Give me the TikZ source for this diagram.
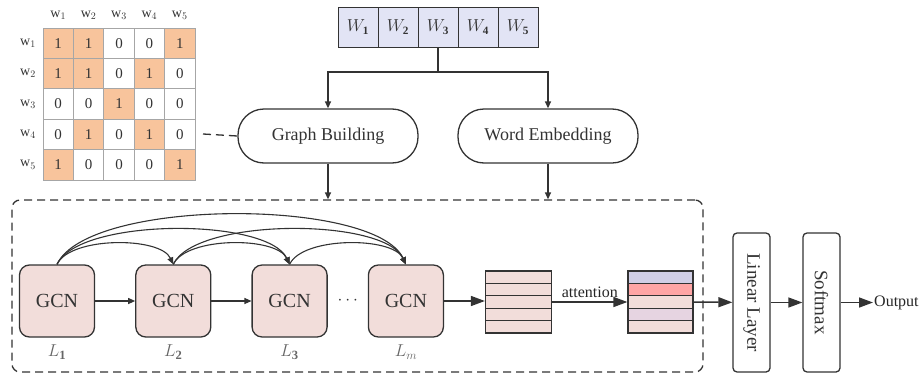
\documentclass[tikz,border=0pt]{standalone}
\usepackage{fontspec}
\setmainfont{Liberation Serif}
\usetikzlibrary{positioning,arrows.meta,calc}

\definecolor{cellorange}{RGB}{248,196,156}
\definecolor{gcnpink}{RGB}{242,221,218}
\definecolor{wordblue}{RGB}{226,228,245}
\definecolor{attlav}{RGB}{209,207,230}
\definecolor{attred}{RGB}{255,165,165}
\definecolor{attmauve}{RGB}{230,212,225}
\definecolor{linegray}{RGB}{51,51,51}

\tikzset{
	bigarr/.style={-{Triangle[width=10pt,length=14pt]}, line width=1.5pt},
	smallarr/.style={-{Triangle[width=6pt,length=7pt]}, line width=1.1pt},
	mcell/.style={draw=black!35, line width=0.8pt, minimum size=30.4pt, inner sep=0pt, font=\fontsize{15}{17}\selectfont},
	cell0/.style={fill=white},
	cell1/.style={fill=cellorange},
	wcell/.style={draw, fill=wordblue, line width=1pt, minimum size=40pt, inner sep=0pt, font=\fontsize{16}{18}\selectfont},
	pill/.style={draw, line width=1.3pt, rounded corners=26pt, minimum width=180pt, minimum height=54pt, font=\fontsize{18}{20}\selectfont},
	gcn/.style={draw, fill=gcnpink, line width=1.3pt, rounded corners=10pt, minimum width=75pt, minimum height=72pt, font=\fontsize{20}{22}\selectfont},
	layerlabel/.style={text=black!60, font=\fontsize{18}{20}\selectfont},
	rowcell/.style={draw, line width=1.2pt, minimum width=66pt, minimum height=12.4pt, inner sep=0pt},
	vbox/.style={draw, line width=1.3pt, rounded corners=4pt, rotate=-90, minimum width=139pt, minimum height=37pt, font=\fontsize{19}{21}\selectfont}
}

\begin{document}
\begin{tikzpicture}[x=1pt, y=-1pt, color=linegray]
	\useasboundingbox (0,0) rectangle (923,375);

	% adjacency matrix
	\foreach \i in {1,...,5} {
		\node[font=\fontsize{14}{16}\selectfont] (colhead\i) at (27.8+30.4*\i,15) {w$_{\i}$};
		\node[font=\fontsize{14}{16}\selectfont] (rowhead\i) at (28,12.8+30.4*\i) {w$_{\i}$};
	}
	\foreach \row [count=\r] in {{1,1,0,0,1},{1,1,0,1,0},{0,0,1,0,0},{0,1,0,1,0},{1,0,0,0,1}} {
		\foreach \v [count=\c] in \row {
			\node[mcell, cell\v] (m\r\c) at (27.8+30.4*\c,12.8+30.4*\r) {\v};
		}
	}
	\coordinate (matR) at (203,134);

	% words
	\foreach \i in {1,...,5}
		\node[wcell] (w\i) at (318+40*\i,27) {$W_{\mathbf{\i}}$};

	\node (graph) at (328,136) [pill] {Graph Building};
	\node (embed) at (548,136) [pill] {Word Embedding};

	\draw [line width=1.3pt] (w3.south) -- (438,72) coordinate (split);
	\draw [smallarr, line width=1.3pt] (split) -| (graph.north);
	\draw [smallarr, line width=1.3pt] (split) -| (embed.north);
	\draw [dash pattern=on 8pt off 5pt, line width=1.3pt] (matR) -- (graph.west);

	% encoder block
	\node (encoder) at (357.5,286) [draw, dash pattern=on 8pt off 5pt, line width=1.3pt, rounded corners=8pt, minimum width=691pt, minimum height=172pt] {};
	\draw [smallarr, line width=1.3pt] (graph.south) -- (graph.south |- encoder.north);
	\draw [smallarr, line width=1.3pt] (embed.south) -- (embed.south |- encoder.north);

	\node (g1) at (57,301) [gcn] {GCN};
	\node (g2) [gcn, right=40pt of g1] {GCN};
	\node (g3) [gcn, right=40pt of g2] {GCN};
	\node (gm) [gcn, right=40pt of g3] {GCN};
	\node (dots) at ($(g3.east)!0.5!(gm.west)$) [font=\fontsize{18}{20}\selectfont] {$\cdots$};
	\node (l1) [below=4pt of g1, layerlabel] {$L_{\mathbf{1}}$};
	\node (l2) [below=4pt of g2, layerlabel] {$L_{\mathbf{2}}$};
	\node (l3) [below=4pt of g3, layerlabel] {$L_{\mathbf{3}}$};
	\node (lm) [below=4pt of gm, layerlabel] {$L_{m}$};

	\draw [smallarr] (g1) -- (g2);
	\draw [smallarr] (g2) -- (g3);
	\foreach \a/\b/\l in {g1/g2/0.68, g1/g3/0.57, g1/gm/0.54, g2/g3/0.68, g2/gm/0.57, g3/gm/0.68}
		\draw [smallarr] (\a.north) to[out=65, in=115, looseness=\l] (\b.north);

	% hidden states and attention
	\foreach \c [count=\i] in {gcnpink,gcnpink,gcnpink,gcnpink,gcnpink}
		\node[rowcell, fill=\c] (a\i) at (518.5,264.8+12.4*\i) {};
	\foreach \c [count=\i] in {attlav,attred,gcnpink,attmauve,gcnpink}
		\node[rowcell, fill=\c, minimum width=65pt] (b\i) at (660.5,264.8+12.4*\i) {};

	\draw [bigarr] (gm.east) -- (gm.east -| a3.west);
	\draw [bigarr] (a3.east) -- node[above, font=\fontsize{16}{18}\selectfont, text=black!85] {attention} (b3.west);

	% classifier
	\node (linear) at (751.5,302.5) [vbox] {Linear Layer};
	\node (softmax) at (821.5,302.5) [vbox] {Softmax};
	\node (output) at (873,302.5) [anchor=west, inner sep=1pt, font=\fontsize{16}{18}\selectfont, text=black!85] {Output};

	\draw [bigarr] (b3.east) -- (linear);
	\draw [bigarr] (linear) -- (softmax);
	\draw [bigarr] (softmax) -- (output.west);
\end{tikzpicture}
\end{document}
